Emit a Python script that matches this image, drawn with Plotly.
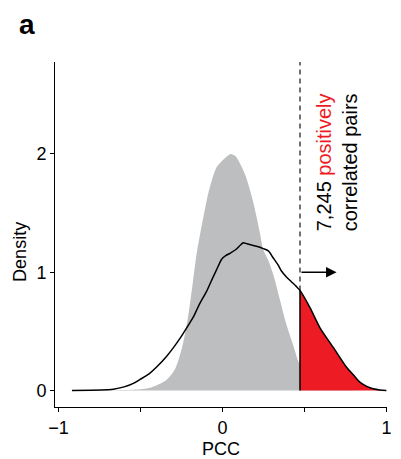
import plotly.graph_objects as go

# Null (shuffled) PCC density - grey filled
null_x = [-0.92, -0.6, -0.5, -0.45, -0.4, -0.35, -0.32, -0.29, -0.27, -0.24, -0.21, -0.18,
          -0.157, -0.127, -0.1, -0.086, -0.06, -0.035, -0.01, 0.02, 0.05, 0.08, 0.107, 0.14,
          0.167, 0.19, 0.208, 0.229, 0.249, 0.28, 0.31, 0.35, 0.39, 0.43, 0.462, 0.5, 0.55,
          0.6, 0.7, 0.8, 1.0]
null_y = [0.0, 0.003, 0.01, 0.02, 0.045, 0.08, 0.12, 0.18, 0.25, 0.40, 0.62, 0.92,
          1.16, 1.39, 1.58, 1.67, 1.80, 1.89, 1.93, 1.97, 2.0, 1.98, 1.92, 1.82,
          1.70, 1.58, 1.47, 1.33, 1.19, 1.10, 0.98, 0.77, 0.56, 0.39, 0.25, 0.15, 0.08,
          0.04, 0.01, 0.002, 0.0]

# Observed PCC density - black line
obs_x = [-0.918, -0.8, -0.7, -0.665, -0.6, -0.543, -0.5, -0.442, -0.4, -0.34, -0.3, -0.259,
         -0.2, -0.178, -0.14, -0.096, -0.06, -0.026, -0.005, 0.02, 0.046, 0.08, 0.11, 0.127,
         0.15, 0.178, 0.208, 0.249, 0.28, 0.31, 0.34, 0.36, 0.39, 0.42, 0.45, 0.473, 0.534,
         0.595, 0.676, 0.757, 0.8, 0.838, 0.88, 0.92, 0.96, 1.0]
obs_y = [0.0, 0.002, 0.006, 0.01, 0.03, 0.06, 0.095, 0.147, 0.20, 0.29, 0.36, 0.44,
         0.57, 0.62, 0.73, 0.84, 0.95, 1.05, 1.11, 1.14, 1.16, 1.19, 1.23, 1.25,
         1.24, 1.23, 1.22, 1.20, 1.18, 1.12, 1.06, 1.01, 0.96, 0.92, 0.88, 0.846, 0.70,
         0.53, 0.364, 0.196, 0.13, 0.07, 0.035, 0.014, 0.004, 0.0]

threshold = 0.473
n_pairs = "7,245"

x_tickvals = [-1, -0.5, 0, 0.5, 1]
x_ticktext = ["\u22121", "", "0", "", "1"]
y_tickvals = [0, 1, 2]
y_ticktext = ["0", "1", "2"]

RED = "#ED1C24"
GREY = "#BDBEC0"
FONT = "Liberation Sans, Arial, Helvetica, sans-serif"

# page body has an 8px margin; the figure is sized so the plot lands where the reference has it
W, H = 393, 451
ML, MR, MT, MB = 47, 13.5, 54, 51.7
PW, PH = W - ML - MR, H - MT - MB
PLOT_LEFT, PLOT_BOTTOM = 55, 407.3  # window pixels


def px(x):
    return (x - PLOT_LEFT) / PW


def py(y):
    return (PLOT_BOTTOM - y) / PH


fig = go.Figure()

fig.add_trace(go.Scatter(x=null_x, y=null_y, mode="lines", fill="tozeroy",
                         fillcolor=GREY, line=dict(width=0, color=GREY, shape="spline", smoothing=0.8),
                         hoverinfo="skip", showlegend=False))

red_x = [x for x in obs_x if x >= threshold]
red_y = [y for x, y in zip(obs_x, obs_y) if x >= threshold]
fig.add_trace(go.Scatter(x=red_x, y=red_y, mode="lines", fill="tozeroy",
                         fillcolor=RED, line=dict(width=0, color=RED, shape="spline", smoothing=0.8),
                         hoverinfo="skip", showlegend=False))

fig.add_trace(go.Scatter(x=obs_x, y=obs_y, mode="lines",
                         line=dict(width=1.5, color="black", shape="spline", smoothing=0.8),
                         hoverinfo="skip", showlegend=False))

# solid edge of red region and dashed threshold line
fig.add_shape(type="line", x0=threshold, x1=threshold, y0=0, y1=0.846,
              xref="x", yref="y", line=dict(color="black", width=1.5))
fig.add_shape(type="line", x0=threshold, x1=threshold, y0=0.846, y1=2.778,
              xref="x", yref="y", line=dict(color="black", width=1.1, dash="5px,4px"))

# arrow
fig.add_annotation(x=0.696, y=1.0, ax=threshold, ay=1.0, xref="x", yref="y",
                   axref="x", ayref="y", showarrow=True, arrowhead=2, arrowsize=1.5,
                   arrowwidth=1.4, arrowcolor="black", text="")

fig.add_annotation(x=0.699, y=1.93, xref="x", yref="y", showarrow=False,
                   textangle=-90, align="left",
                   text=n_pairs + " <span style='color:" + RED + "'>positively</span><br>correlated pairs",
                   font=dict(family=FONT, size=20, color="black"))

fig.add_annotation(x=px(27), y=py(24), xref="paper", yref="paper",
                   xanchor="center", yanchor="middle", showarrow=False,
                   text="<b>a</b>", font=dict(family=FONT, size=28, color="black"))

# y-axis title
fig.add_annotation(x=px(20), y=py(252), xref="paper", yref="paper",
                   xanchor="center", yanchor="middle", showarrow=False, textangle=-90,
                   text="Density", font=dict(family=FONT, size=18, color="black"))

fig.update_layout(
    width=W, height=H,
    margin=dict(l=ML, r=MR, t=MT, b=MB, pad=0),
    paper_bgcolor="white", plot_bgcolor="white",
    font=dict(family=FONT, size=17, color="black"),
    xaxis=dict(range=[-1.0213, 1.0037], tickvals=x_tickvals, ticktext=x_ticktext,
               showgrid=False, zeroline=False, showline=True, linecolor="black",
               linewidth=1, ticks="outside", ticklen=4, tickcolor="black",
               tickfont=dict(size=18), automargin=False,
               title=dict(text="PCC", font=dict(size=18), standoff=8)),
    yaxis=dict(range=[-0.140, 2.778], tickvals=y_tickvals, ticktext=y_ticktext,
               showgrid=False, zeroline=False, showline=True, linecolor="black",
               linewidth=1, ticks="outside", ticklen=4, tickcolor="black",
               tickfont=dict(size=18), automargin=False),
)

fig.write_html("out.html")
